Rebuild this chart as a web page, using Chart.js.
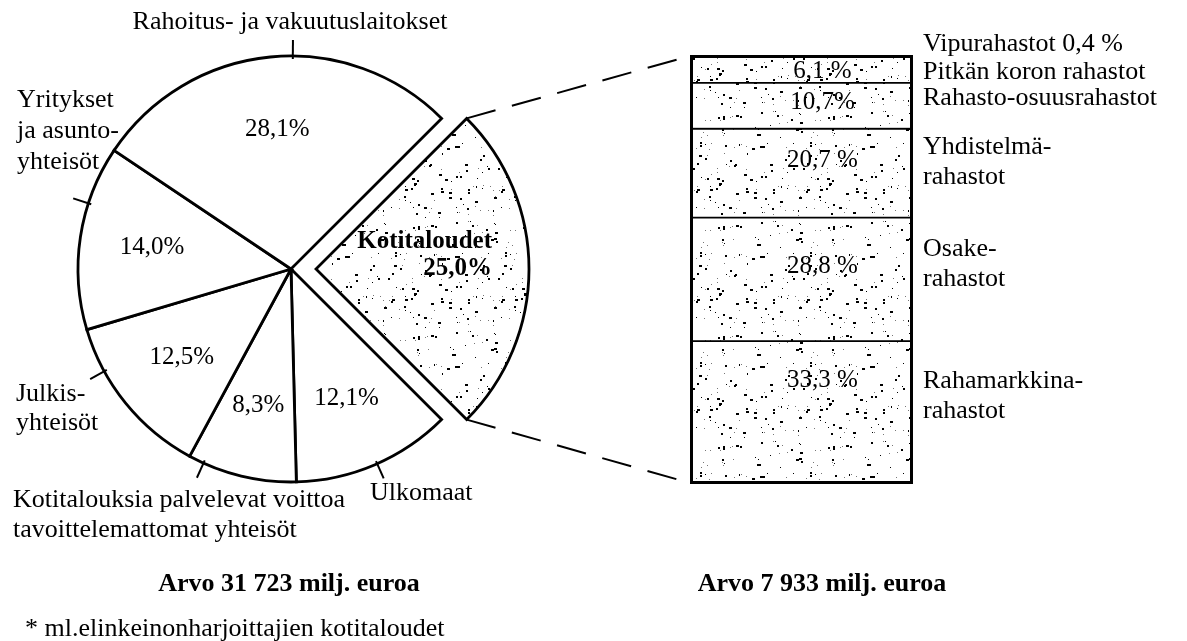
<!DOCTYPE html>
<html>
<head>
<meta charset="utf-8">
<script src="https://cdn.jsdelivr.net/npm/chart.js@4.4.1/dist/chart.umd.min.js"></script>
<style>
  body { margin: 0; background: #fff; }
  #wrap { position: relative; width: 1187px; height: 641px; overflow: hidden; font-family: "Liberation Serif", serif; color: #000; }
  canvas { position: absolute; left: 0; top: 0; }
  .cap { position: absolute; font-size: 26px; white-space: nowrap; transform: translate(-50%, -50%); }
  .b { font-weight: bold; }
</style>
</head>
<body>
<div id="wrap">
  <canvas id="pie" width="1187" height="641"></canvas>
  <canvas id="bar" width="1187" height="641"></canvas>
  <div class="cap b" style="left:289px;top:583px">Arvo 31 723 milj. euroa</div>
  <div class="cap b" style="left:822px;top:583px">Arvo 7 933 milj. euroa</div>
  <div class="cap" style="left:25px;top:628px;transform:translateY(-50%)">* ml.elinkeinonharjoittajien kotitaloudet</div>
</div>
<script>
// sektorit myötäpäivään, Kotitalouksista alkaen (%)
const sectorNames = ['Kotitaloudet', 'Ulkomaat', 'Kotitalouksia palvelevat voittoa tavoittelemattomat yhteisöt',
                     'Julkisyhteisöt', 'Yritykset ja asuntoyhteisöt', 'Rahoitus- ja vakuutuslaitokset'];
const sectorShares = [25.0, 12.1, 8.3, 12.5, 14.0, 28.1];

// rahastotyypit alhaalta ylös (%)
const fundNames = ['Rahamarkkinarahastot', 'Osakerahastot', 'Yhdistelmärahastot',
                   'Rahasto-osuusrahastot', 'Pitkän koron rahastot', 'Vipurahastot'];
const fundShares = [33.3, 28.8, 20.7, 10.7, 6.1, 0.4];

// tekstit rivitettynä
const sectorLabelLines = [
    null,
    ['Ulkomaat'],
    ['Kotitalouksia palvelevat voittoa', 'tavoittelemattomat yhteisöt'],
    ['Julkis-', 'yhteisöt'],
    ['Yritykset', 'ja asunto-', 'yhteisöt'],
    ['Rahoitus- ja vakuutuslaitokset']
];
const fundLabelLines = [
    ['Rahamarkkina-', 'rahastot'],
    ['Osake-', 'rahastot'],
    ['Yhdistelmä-', 'rahastot'],
    ['Rahasto-osuusrahastot'],
    ['Pitkän koron rahastot'],
    ['Vipurahastot ' + pct(fundShares[5], ' ')]
];
const fundPctSep = [' ', ' ', ' ', '', ' ', ' '];

// sijoittelu (vain ulkoasua)
const sectorLabelPos = [
    null,
    {x: 370, y: 493, align: 'left', lh: 30},
    {x: 13, y: 500, align: 'left', lh: 30},
    {x: 16, y: 394, align: 'left', lh: 29},
    {x: 17, y: 100, align: 'left', lh: 31},
    {x: 290, y: 22, align: 'center', lh: 30}
];
const tickFrac = [null, 0.485, 0.86, 0.73, 0.685, 0.56];
const fundLabelShift = [-16, -15, -11, -8, 2, -12];
const fundPctShift = [-32, -13, -13, -3, 2, null];
const explode = 25;
const FONT = '"Liberation Serif", serif';

function pct(v, sep) {
    return v.toFixed(1).replace('.', ',') + (sep || '') + '%';
}

// pisterasteri (kiinteä siemen, ei dataa)
function stipple() {
    const c = document.createElement('canvas');
    c.width = 110; c.height = 110;
    const g = c.getContext('2d');
    g.fillStyle = '#fff';
    g.fillRect(0, 0, 110, 110);
    let s = 12345;
    const rnd = () => (s = (s * 16807) % 2147483647) / 2147483647;
    for (let i = 0; i < 150; i++) {
        const x = Math.floor(rnd() * 110), y = Math.floor(rnd() * 110), r = rnd();
        g.fillStyle = r < 0.3 ? '#777' : '#000';
        g.fillRect(x, y, r > 0.85 ? 3 : (r > 0.6 ? 2 : 1), r > 0.5 ? 2 : 1);
    }
    return g.createPattern(c, 'repeat');
}
const dots = stipple();

const pieText = {
    id: 'pieText',
    afterDatasetsDraw(chart) {
        const ctx = chart.ctx;
        const arcs = chart.getDatasetMeta(0).data;
        ctx.save();
        ctx.fillStyle = '#000';
        ctx.strokeStyle = '#000';
        ctx.textBaseline = 'middle';
        arcs.forEach((arc, i) => {
            const mid = (arc.startAngle + arc.endAngle) / 2;
            const R = arc.outerRadius;
            if (i === 0) {
                const sx = arc.x + Math.cos(mid) * explode, sy = arc.y + Math.sin(mid) * explode;
                ctx.font = 'bold 25px ' + FONT;
                ctx.textAlign = 'right';
                ctx.fillText('Kotitaloudet', sx + 176, sy - 27);
                ctx.fillText(pct(sectorShares[i]), sx + 176, sy);
                return;
            }
            ctx.font = '25px ' + FONT;
            ctx.textAlign = 'center';
            ctx.fillText(pct(sectorShares[i]), arc.x + Math.cos(mid) * R * 0.66, arc.y + Math.sin(mid) * R * 0.66);

            const a = arc.startAngle + (arc.endAngle - arc.startAngle) * tickFrac[i];
            ctx.lineWidth = 2;
            ctx.beginPath();
            ctx.moveTo(arc.x + Math.cos(a) * (R - 3), arc.y + Math.sin(a) * (R - 3));
            ctx.lineTo(arc.x + Math.cos(a) * (R + 16), arc.y + Math.sin(a) * (R + 16));
            ctx.stroke();

            const p = sectorLabelPos[i];
            ctx.font = '26px ' + FONT;
            ctx.textAlign = p.align;
            sectorLabelLines[i].forEach((t, k) => ctx.fillText(t, p.x, p.y + k * p.lh));
        });
        ctx.restore();
    }
};

const pieChart = new Chart(document.getElementById('pie'), {
    type: 'pie',
    data: {
        labels: sectorNames,
        datasets: [{
            data: sectorShares,
            backgroundColor: sectorShares.map((v, i) => i === 0 ? dots : '#fff'),
            borderColor: '#000',
            borderWidth: 2.8,
            borderJoinStyle: 'miter',
            offset: sectorShares.map((v, i) => i === 0 ? explode * 4 : 0)
        }]
    },
    options: {
        responsive: false,
        animation: false,
        events: [],
        rotation: 45,
        radius: 213,
        layout: {padding: {left: 0, top: 0, right: 1187 - 582, bottom: 641 - 538}},
        plugins: {legend: {display: false}, tooltip: {enabled: false}}
    },
    plugins: [pieText]
});

const barText = {
    id: 'barText',
    afterDatasetsDraw(chart) {
        const ctx = chart.ctx;
        const area = chart.chartArea;
        ctx.save();
        ctx.strokeStyle = '#000';
        ctx.fillStyle = '#000';

        // kehys
        ctx.lineWidth = 3;
        ctx.strokeRect(area.left + 1.5, area.top + 1.5, area.width - 3, area.height - 3);

        // katkoviivat piirakan sektorista
        const arc = pieChart.getDatasetMeta(0).data[0];
        const mid = (arc.startAngle + arc.endAngle) / 2;
        const sx = arc.x + Math.cos(mid) * explode, sy = arc.y + Math.sin(mid) * explode;
        const R = arc.outerRadius;
        ctx.lineWidth = 2;
        ctx.setLineDash([30, 17]);
        ctx.beginPath();
        ctx.moveTo(sx + Math.cos(arc.startAngle) * R, sy + Math.sin(arc.startAngle) * R);
        ctx.lineTo(area.left, area.top + 1);
        ctx.moveTo(sx + Math.cos(arc.endAngle) * R, sy + Math.sin(arc.endAngle) * R);
        ctx.lineTo(area.left, area.bottom - 1);
        ctx.stroke();
        ctx.setLineDash([]);

        ctx.textBaseline = 'middle';
        fundShares.forEach((v, i) => {
            const bar = chart.getDatasetMeta(i).data[0];
            const cy = (bar.y + bar.base) / 2;
            if (fundPctShift[i] !== null) {
                ctx.font = '25px ' + FONT;
                ctx.textAlign = 'center';
                ctx.fillText(pct(v, fundPctSep[i]), bar.x + 21, cy + fundPctShift[i]);
            }
            const lines = fundLabelLines[i];
            const y0 = cy + fundLabelShift[i] - (lines.length - 1) * 15;
            ctx.font = '26px ' + FONT;
            ctx.textAlign = 'left';
            lines.forEach((t, k) => ctx.fillText(t, area.right + 10, y0 + k * 30));
        });
        ctx.restore();
    }
};

const barChart = new Chart(document.getElementById('bar'), {
    type: 'bar',
    data: {
        labels: ['Sijoitusrahastot'],
        datasets: fundNames.map((n, i) => ({
            label: n,
            data: [fundShares[i]],
            backgroundColor: dots,
            borderColor: '#000',
            borderWidth: 1.25,
            borderSkipped: false,
            barPercentage: 1,
            categoryPercentage: 1
        }))
    },
    options: {
        responsive: false,
        animation: false,
        events: [],
        layout: {padding: {left: 690, right: 1187 - 913, top: 55, bottom: 641 - 484}},
        scales: {
            x: {stacked: true, display: false},
            y: {stacked: true, display: false, min: 0, max: 100}
        },
        plugins: {legend: {display: false}, tooltip: {enabled: false}}
    },
    plugins: [barText]
});
</script>
</body>
</html>
